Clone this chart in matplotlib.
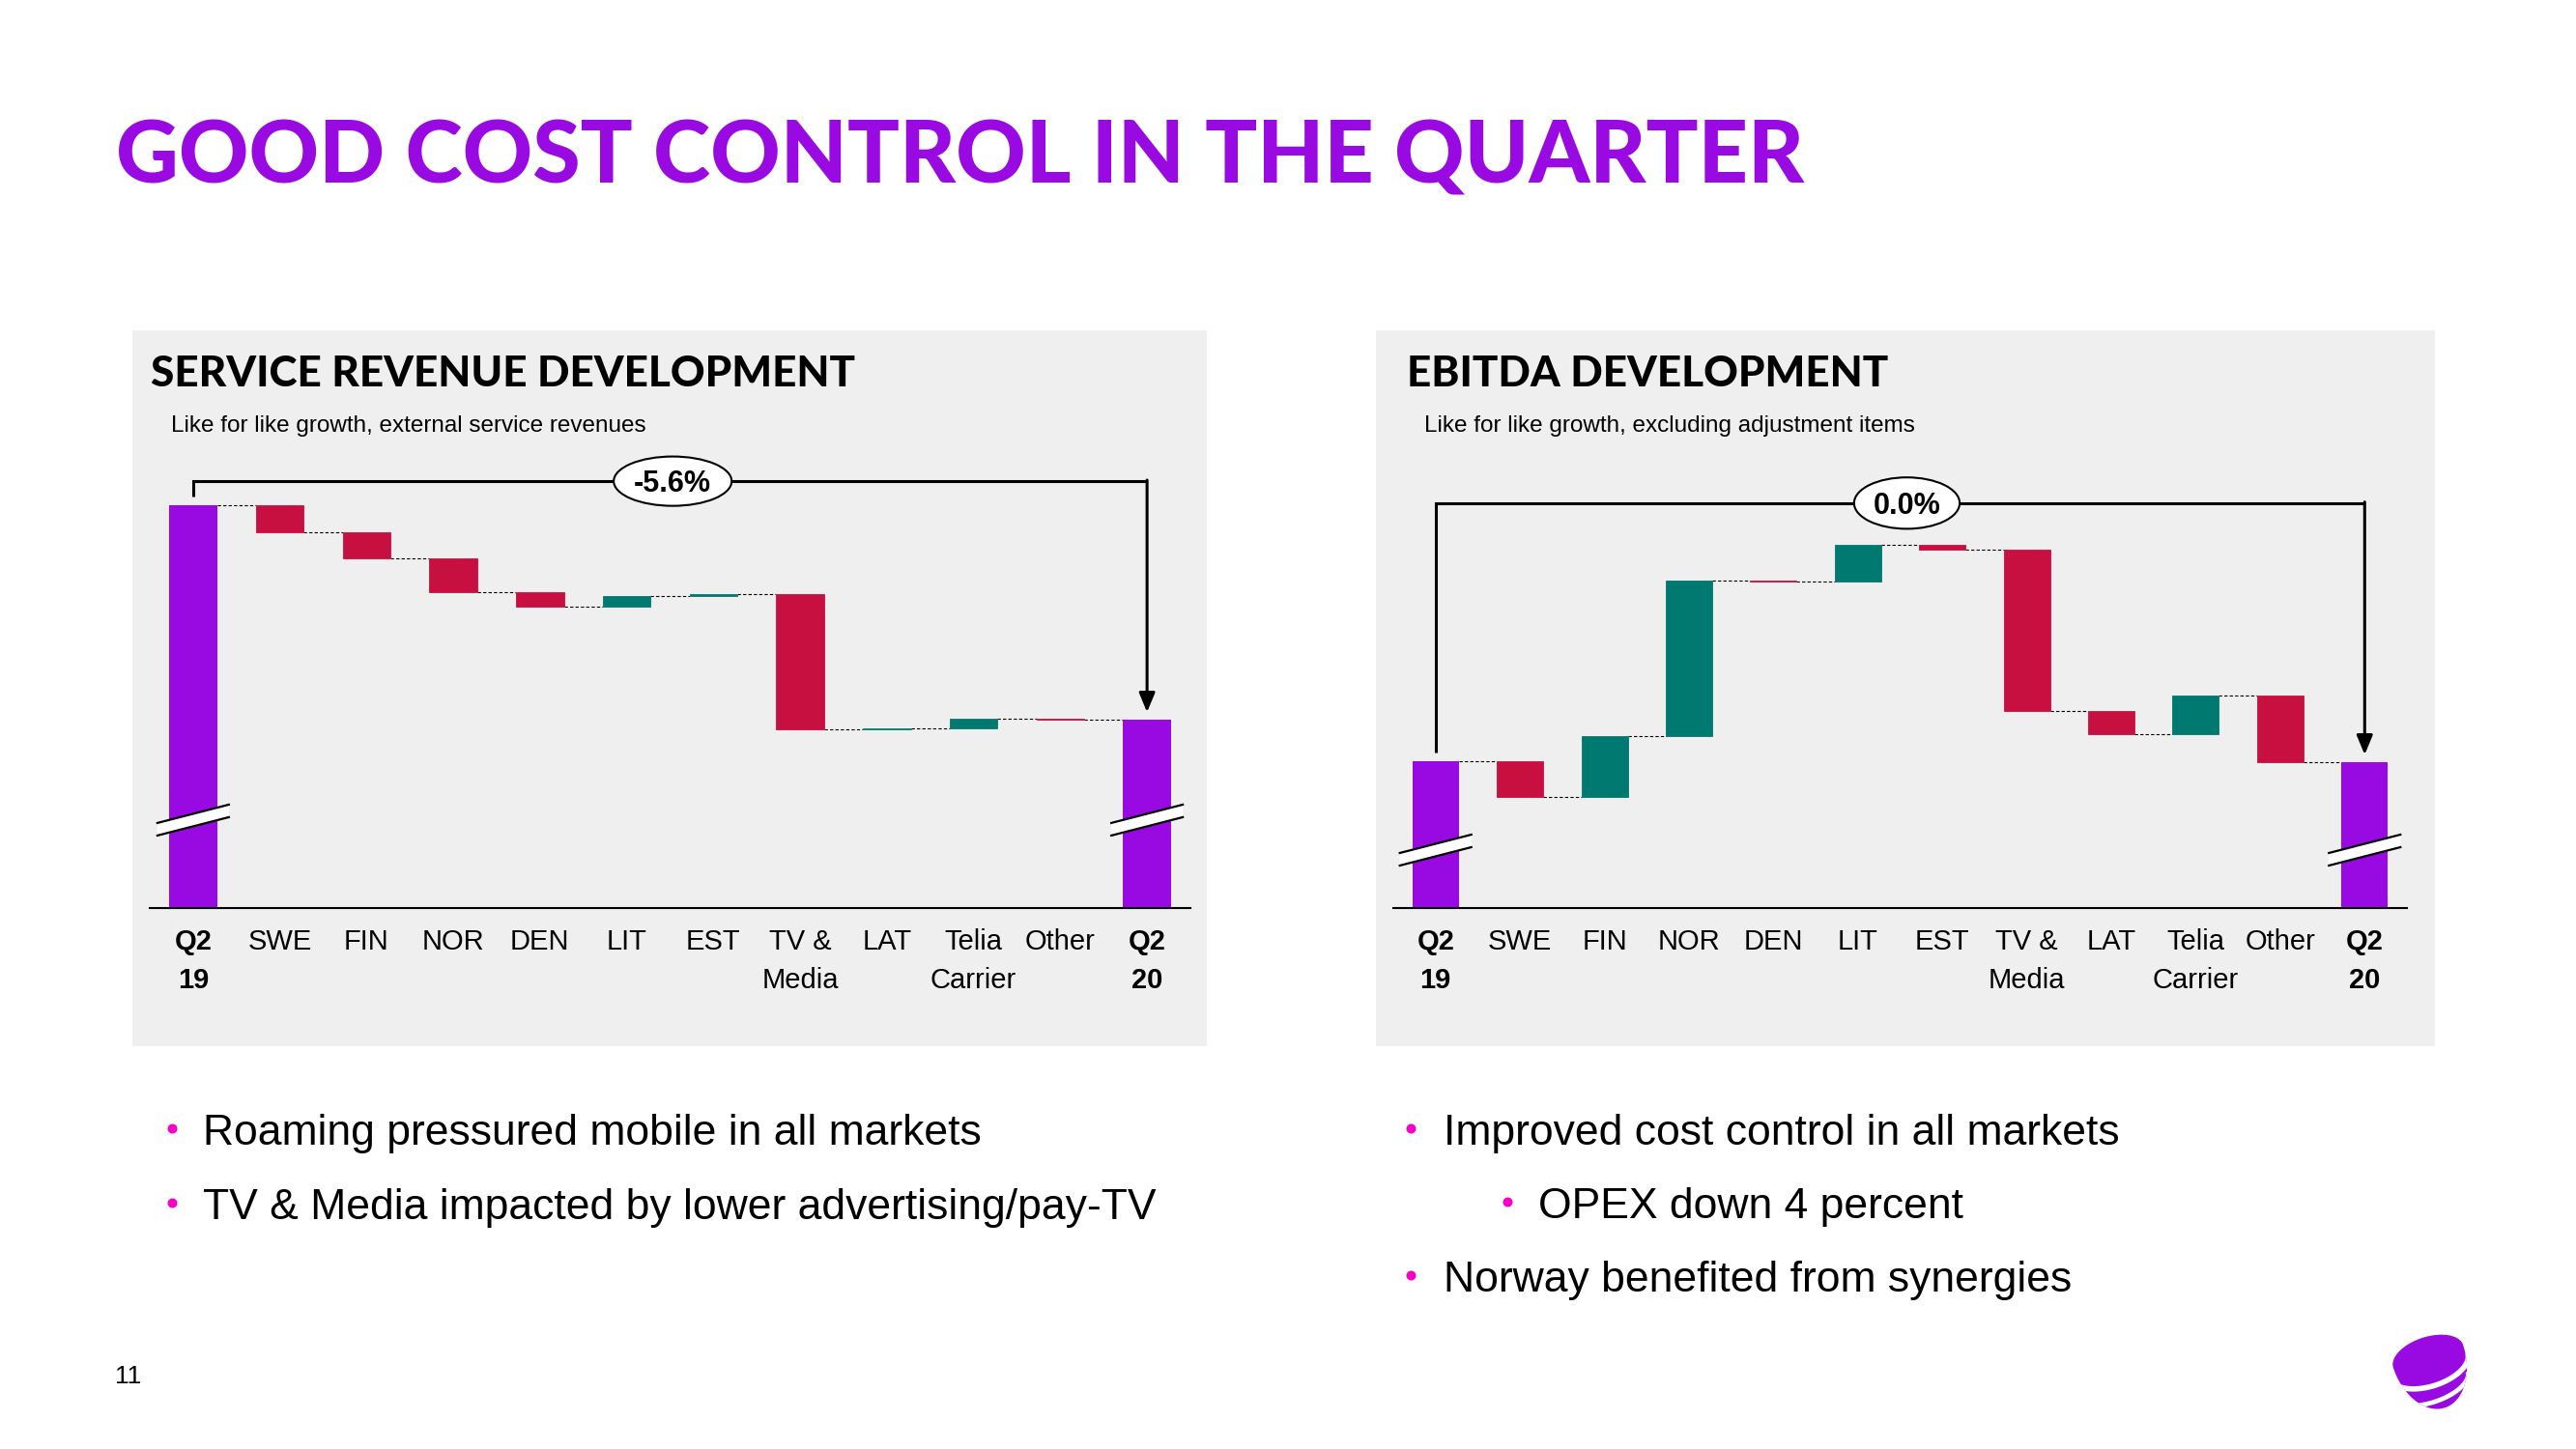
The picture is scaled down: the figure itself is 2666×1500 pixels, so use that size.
import numpy as np
import matplotlib
matplotlib.use('Agg')
import matplotlib.pyplot as plt
from matplotlib.patches import Rectangle, Ellipse, Polygon
from matplotlib.transforms import blended_transform_factory, IdentityTransform

W, H = 2666, 1500

# chart data (index, Q2 19 = 100; deltas in percentage points)
categories = ['Q2\n19', 'SWE', 'FIN', 'NOR', 'DEN', 'LIT', 'EST', 'TV &\nMedia',
              'LAT', 'Telia\nCarrier', 'Other', 'Q2\n20']
rev_start = 100.0
rev_deltas = [-0.70, -0.69, -0.86, -0.38, 0.27, 0.06, -3.54, 0.03, 0.23, -0.02]
rev_total_label = '-5.6%'
ebitda_start = 100.0
ebitda_deltas = [-0.93, 1.57, 4.04, -0.04, 0.97, -0.13, -4.19, -0.60, 1.02, -1.74]
ebitda_total_label = '0.0%'

left_bullets = ['Roaming pressured mobile in all markets',
                'TV & Media impacted by lower advertising/pay-TV']
right_bullets = ['Improved cost control in all markets',
                 'OPEX down 4 percent',
                 'Norway benefited from synergies']

PURPLE = '#990AE3'
RED = '#C70F40'
GREEN = '#007A70'
GREY = '#EFEFEF'
MAGENTA = '#F800C8'
TEXT_FONT = ['Liberation Sans', 'DejaVu Sans']
HEAD_FONT = ['Lato', 'DejaVu Sans']

fig = plt.figure(figsize=(W / 100, H / 100), dpi=100)
fig.patch.set_facecolor('white')

# background layer in pixel coordinates (y down)
bg = fig.add_axes([0, 0, 1, 1], zorder=0)
bg.set_xlim(0, W)
bg.set_ylim(H, 0)
bg.axis('off')

bg.add_patch(Rectangle((137, 342), 1112, 741, color=GREY, lw=0))
bg.add_patch(Rectangle((1424, 342), 1096, 741, color=GREY, lw=0))

bg.text(120, 189, 'GOOD COST CONTROL IN THE QUARTER', fontsize=64.5, fontweight='black',
        color=PURPLE, family=HEAD_FONT, va='baseline')
bg.text(156, 400, 'SERVICE REVENUE DEVELOPMENT', fontsize=31.7, fontweight='black',
        color='black', family=HEAD_FONT, va='baseline')
bg.text(1456, 400, 'EBITDA DEVELOPMENT', fontsize=31.7, fontweight='black',
        color='black', family=HEAD_FONT, va='baseline')
bg.text(177, 447, 'Like for like growth, external service revenues', fontsize=17.5,
        family=TEXT_FONT, va='baseline')
bg.text(1474, 447, 'Like for like growth, excluding adjustment items', fontsize=17.5,
        family=TEXT_FONT, va='baseline')


def bullet(x_dot, x_text, y_base, text):
    bg.plot(x_dot, y_base - 17, 'o', ms=7.2, color=MAGENTA, mec='none')
    bg.text(x_text, y_base, text, fontsize=32, family=TEXT_FONT, va='baseline')


bullet(178, 210, 1185, left_bullets[0])
bullet(178, 210, 1262, left_bullets[1])
bullet(1460, 1494, 1185, right_bullets[0])
bullet(1560, 1592, 1261, right_bullets[1])
bullet(1460, 1494, 1337, right_bullets[2])

bg.text(119, 1432, '11', fontsize=19, family=TEXT_FONT, va='baseline')

# Telia pebble logo
def ell_pts(cx, cy, rx, ry, phi, t0, t1, n=60):
    t = np.linspace(t0, t1, n)
    p = np.radians(phi)
    xs = cx + rx * np.cos(t) * np.cos(p) - ry * np.sin(t) * np.sin(p)
    ys = cy + rx * np.cos(t) * np.sin(p) + ry * np.sin(t) * np.cos(p)
    return xs, ys

ux, uy = ell_pts(2513, 1404, 38, 20, -18, np.pi, 2 * np.pi)
lx, ly = ell_pts(2513, 1404, 38, 56, -18, 0, np.pi)
body = Polygon(np.column_stack([np.r_[ux, lx], np.r_[uy, ly]]), closed=True,
               fc=PURPLE, ec='none')
bg.add_patch(body)
for cy, rx, ry, lw in ((1414, 42, 21, 4.0), (1433, 42, 19, 3.4)):
    sx, sy = ell_pts(2514, cy, rx, ry, -18, 0, np.pi)
    ln, = bg.plot(sx, sy, color='white', lw=lw, solid_capstyle='butt')
    ln.set_clip_path(body)


def waterfall(rect_px, start, deltas, ylim, total_label, bracket_y, ell_x, ell_w, ell_h, break_y):
    left, top, width, height = rect_px
    ax = fig.add_axes([left / W, (H - top - height) / H, width / W, height / H], zorder=1)
    ax.patch.set_alpha(0)
    ax.set_xlim(-0.5, len(categories) - 0.5)
    ax.set_ylim(ylim)
    ppu = height / (ylim[1] - ylim[0])
    for s in ('top', 'left', 'right'):
        ax.spines[s].set_visible(False)
    ax.spines['bottom'].set_linewidth(1.5)
    ax.set_xticks([])
    ax.set_yticks([])

    n = len(categories)
    x = np.arange(n)
    w = 0.55
    levels = start + np.concatenate([[0], np.cumsum(deltas)])
    end = levels[-1]
    lo = ylim[0]

    ax.bar(x[0], start - lo, bottom=lo, width=w, color=PURPLE, zorder=2)
    ax.bar(x[-1], end - lo, bottom=lo, width=w, color=PURPLE, zorder=2)
    for i, d in enumerate(deltas, start=1):
        c = GREEN if d > 0 else RED
        ax.bar(x[i], d, bottom=levels[i - 1], width=w, color=c, edgecolor=c,
               linewidth=0.6, zorder=2)
    for i in range(n - 1):
        ax.plot([x[i] + w / 2, x[i + 1] - w / 2], [levels[i]] * 2, color='black',
                lw=0.8, dashes=(3, 2), zorder=1)

    # total bracket with arrow
    ax.plot([x[0], x[0], x[-1]], [start + 9 / ppu, bracket_y, bracket_y], color='black',
            lw=2.2, solid_joinstyle='miter', solid_capstyle='butt', zorder=3)
    ax.annotate('', xy=(x[-1], end + 8 / ppu), xytext=(x[-1], bracket_y + 1.1 / ppu),
                arrowprops=dict(arrowstyle='-|>,head_length=0.6,head_width=0.25',
                                lw=2.2, color='black', shrinkA=0, shrinkB=0,
                                mutation_scale=20), zorder=3)
    ax.add_patch(Ellipse((ell_x, bracket_y), ell_w, ell_h, fc='white', ec='black',
                         lw=1.5, zorder=5))
    ax.text(ell_x, bracket_y - 11 / ppu, total_label, ha='center', va='baseline',
            fontsize=22, fontweight='bold', family=TEXT_FONT, zorder=6)

    # axis break marks on the two total bars
    for xi in (x[0], x[-1]):
        cx, cy = ax.transData.transform((xi, break_y))
        poly = Polygon([(cx - 37, cy - 16), (cx + 37, cy + 3), (cx + 37, cy + 16),
                        (cx - 37, cy - 3)], closed=True, fc='white', ec='none',
                       transform=IdentityTransform(), clip_on=False, zorder=4)
        ax.add_patch(poly)
        for off in (-6.5, 6.5):
            ax.plot([cx - 37, cx + 37], [cy - 9.5 + off, cy + 9.5 + off], color='black',
                    lw=1.6, transform=IdentityTransform(), clip_on=False, zorder=4)

    # category labels
    tr = blended_transform_factory(ax.transData, ax.transAxes)
    for xi, lab in zip(x, categories):
        bold = lab.startswith('Q2')
        for k, line in enumerate(lab.split('\n')):
            ax.text(xi, (-43 - 40 * k) / height, line, transform=tr, ha='center',
                    va='baseline', fontsize=21, family=TEXT_FONT,
                    fontweight='bold' if bold else 'normal')
    return ax


waterfall((155, 470, 1077, 470), rev_start, rev_deltas, (89.48, 101.35), rev_total_label,
          100.64, 5.53, 1.36, 1.29, 91.78)
waterfall((1442, 470, 1049, 470), ebitda_start, ebitda_deltas, (96.2, 107.95),
          ebitda_total_label, 106.68, 5.58, 1.25, 1.33, 97.7)

fig.savefig('out.png', dpi=100)
